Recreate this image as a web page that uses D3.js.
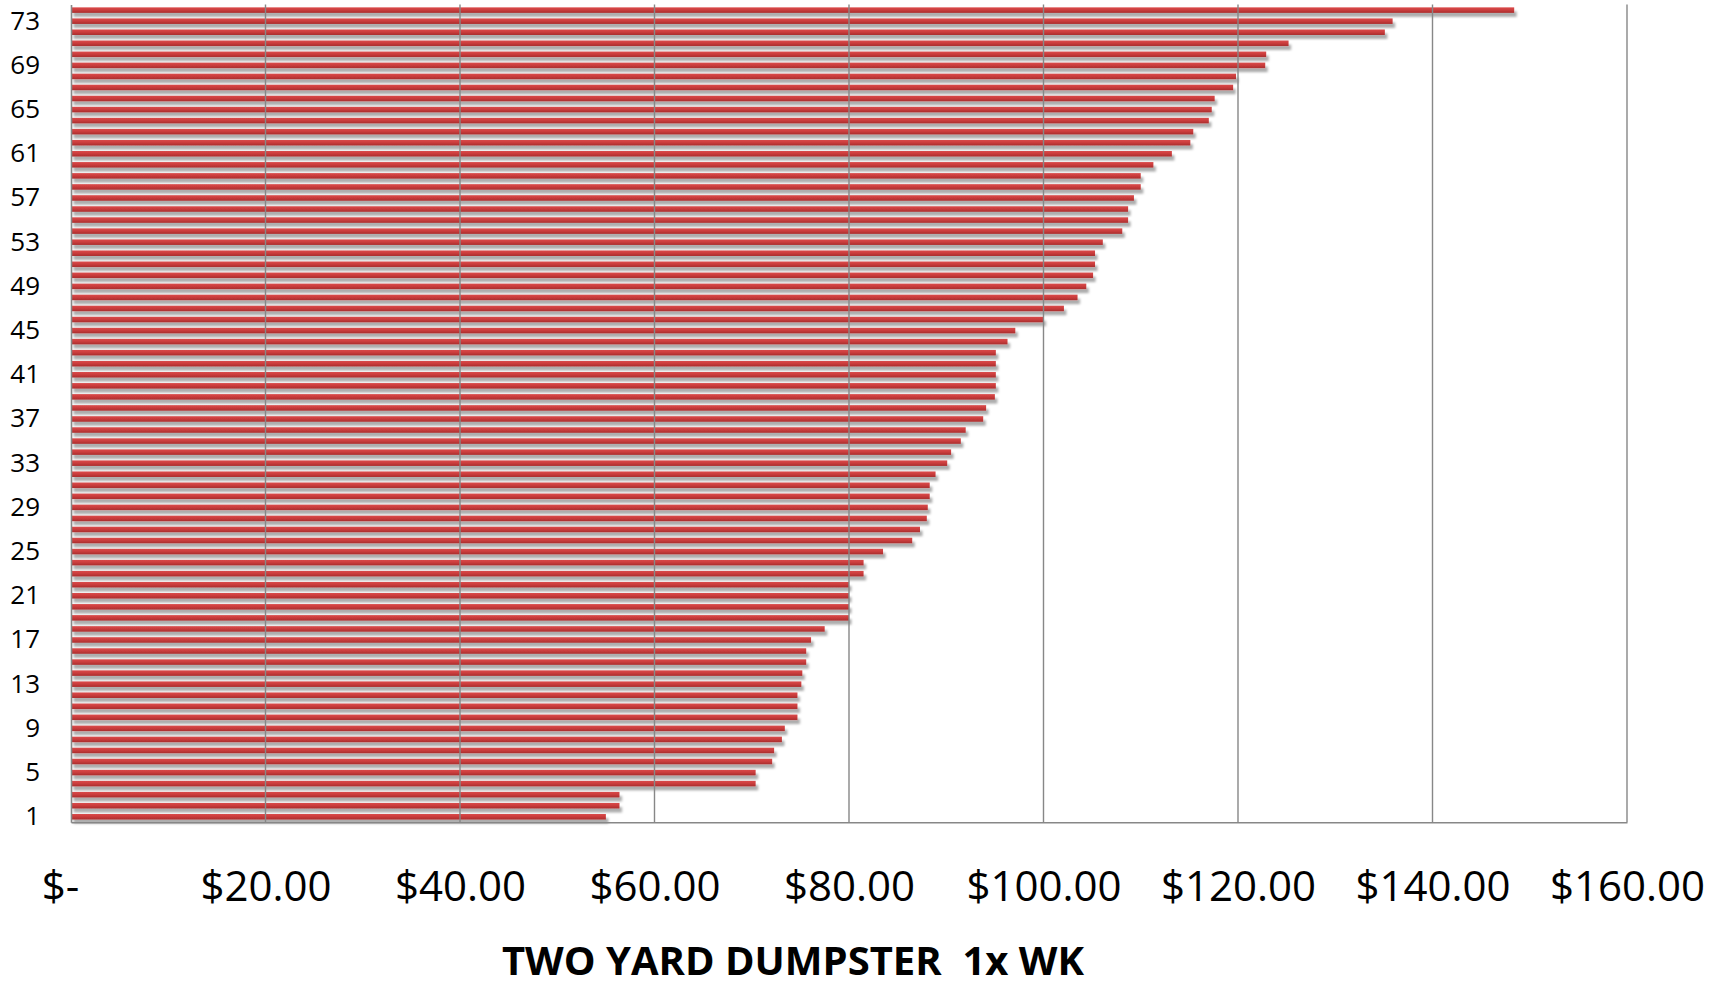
<!DOCTYPE html>
<html lang="en">

<head>
    <meta charset="UTF-8">
    <title>Two Yard Dumpster 1x WK</title>
    <style>
        body {
            margin: 0;
            background-color: #fff;
        }

        svg text {
            font-family: "Open Sans", sans-serif;
            fill: #000;
        }
    </style>
    <script src="https://d3js.org/d3.v7.min.js"></script>
</head>

<body>
    <div id="chart"></div>
    <script>

        // price per account, sorted low to high
        const prices = [
            55.0, 56.4, 56.4, 70.4, 70.4, 72.1, 72.3, 73.1, 73.4, 74.7,
            74.7, 74.7, 75.1, 75.2, 75.6, 75.6, 76.1, 77.5, 80.0, 80.0,
            80.0, 80.0, 81.5, 81.5, 83.5, 86.5, 87.3, 88.0, 88.1, 88.3,
            88.3, 88.9, 90.1, 90.5, 91.5, 92.0, 93.8, 94.1, 95.0, 95.1,
            95.1, 95.1, 95.1, 96.3, 97.1, 100.0, 102.1, 103.5, 104.4, 105.1,
            105.3, 105.3, 106.1, 108.1, 108.7, 108.7, 109.3, 110.0, 110.0, 111.3,
            113.2, 115.1, 115.4, 117.0, 117.3, 117.6, 119.5, 119.8, 122.8, 122.9,
            125.2, 135.1, 135.9, 148.4
        ];
        const categories = prices.map(function (d, i) { return i + 1; });
        const shownCategories = categories.filter(function (d) { return (d - 1) % 4 === 0; });
        const xTicks = [0, 20, 40, 60, 80, 100, 120, 140, 160];
        const title = "TWO YARD DUMPSTER  1x WK";

        const W = 1727, H = 986;
        const margin = { top: 4.6, right: 100, bottom: 163.7, left: 71 };
        const width = W - margin.left - margin.right;
        const height = H - margin.top - margin.bottom;

        const x = d3.scaleLinear()
            .domain([0, 160])
            .range([0, width]);

        const y = d3.scaleBand()
            .domain(categories)
            .range([height, 0])
            .paddingInner(0.5)
            .paddingOuter(0.25);

        const svg = d3.select("#chart")
            .append("svg")
            .attr("width", W)
            .attr("height", H)
            .append("g")
            .attr("transform", `translate(${margin.left},${margin.top})`);

        const defs = svg.append("defs");
        const grad = defs.append("linearGradient")
            .attr("id", "barGrad")
            .attr("x1", 0).attr("y1", 0).attr("x2", 0).attr("y2", 1);
        grad.append("stop").attr("offset", "0%").attr("stop-color", "#dc4b4b");
        grad.append("stop").attr("offset", "50%").attr("stop-color", "#c93c3c");
        grad.append("stop").attr("offset", "100%").attr("stop-color", "#a92e2e");

        const shadow = defs.append("filter")
            .attr("id", "shadow")
            .attr("x", "-5%").attr("y", "-50%")
            .attr("width", "110%").attr("height", "300%");
        shadow.append("feDropShadow")
            .attr("dx", 2.5)
            .attr("dy", 4)
            .attr("stdDeviation", 1.3)
            .attr("flood-color", "#000")
            .attr("flood-opacity", 0.32);

        // bars
        svg.selectAll(".bar")
            .data(prices)
            .enter()
            .append("rect")
            .attr("class", "bar")
            .attr("x", 0)
            .attr("y", function (d, i) { return y(categories[i]); })
            .attr("width", function (d) { return x(d); })
            .attr("height", y.bandwidth())
            .attr("fill", "url(#barGrad)")
            .attr("filter", "url(#shadow)");

        // vertical gridlines
        svg.append("g")
            .attr("class", "grid")
            .selectAll("line")
            .data(xTicks.slice(1))
            .enter()
            .append("line")
            .attr("x1", function (d) { return x(d); })
            .attr("x2", function (d) { return x(d); })
            .attr("y1", 0)
            .attr("y2", height)
            .attr("stroke", "#878787")
            .attr("stroke-width", 1.4);

        const xAxis = d3.axisBottom(x)
            .tickValues(xTicks)
            .tickSize(0)
            .tickPadding(77)
            .tickFormat(function (d) {
                return d === 0 ? "$-\u00A0\u00A0" : "$" + d3.format(".2f")(d);
            });
        const gx = svg.append("g")
            .attr("class", "x-axis")
            .attr("transform", `translate(0, ${height})`)
            .call(xAxis);
        gx.select(".domain").attr("stroke", "#878787").attr("stroke-width", 1.6);
        gx.selectAll("text")
            .style("font-size", "42px")
            .attr("dy", "0.05em");

        const yAxis = d3.axisLeft(y)
            .tickValues(shownCategories)
            .tickSize(0)
            .tickPadding(31);
        const gy = svg.append("g")
            .attr("class", "y-axis")
            .call(yAxis);
        gy.select(".domain").attr("stroke", "#878787").attr("stroke-width", 1.6);
        gy.selectAll("text")
            .style("font-size", "26px");

        svg.append("text")
            .attr("x", 793 - margin.left)
            .attr("y", 975 - margin.top)
            .attr("text-anchor", "middle")
            .style("font-size", "40px")
            .style("font-weight", "bold")
            .style("white-space", "pre")
            .text(title);

    </script>
</body>

</html>
